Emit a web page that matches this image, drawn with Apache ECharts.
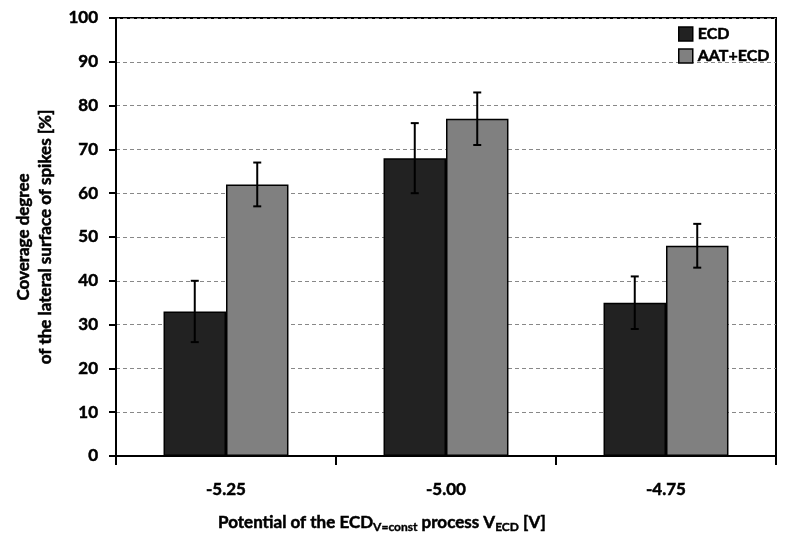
<!DOCTYPE html>
<html><head><meta charset="utf-8">
<script src="https://cdn.jsdelivr.net/npm/echarts@6/dist/echarts.min.js"></script>
<style>html,body{margin:0;padding:0;background:#fff}#c{width:796px;height:540px}</style>
</head><body><div id="c"></div>
<script>
const categories = ['-5.25', '-5.00', '-4.75'];
const ecd = [33, 68, 35];
const ecdLow = [26, 60, 29];
const ecdHigh = [40, 76, 41];
const aat = [62, 77, 48];
const aatLow = [57, 71, 43];
const aatHigh = [67, 83, 53];
const yTicks = [0, 10, 20, 30, 40, 50, 60, 70, 80, 90, 100];

const FONT = 'Lato';
const BW = 0.284;
const HEAVY = { textBorderColor: '#000', textBorderWidth: 0.5 };

function errSeries(low, high, side) {
  return {
    type: 'custom',
    silent: true,
    z: 10,
    data: categories.map((c, i) => [i, low[i], high[i]]),
    renderItem: function (params, api) {
      const i = api.value(0);
      const catW = api.size([1, 0])[0];
      const off = side * catW * BW / 2;
      const lo = api.coord([i, api.value(1)]);
      const hi = api.coord([i, api.value(2)]);
      const x = lo[0] + off;
      const cap = 4;
      const st = { stroke: '#000', lineWidth: 2 };
      return {
        type: 'group',
        children: [
          { type: 'line', shape: { x1: x, y1: lo[1], x2: x, y2: hi[1] }, style: st },
          { type: 'line', shape: { x1: x - cap, y1: lo[1], x2: x + cap, y2: lo[1] }, style: st },
          { type: 'line', shape: { x1: x - cap, y1: hi[1], x2: x + cap, y2: hi[1] }, style: st }
        ]
      };
    }
  };
}

const chart = echarts.init(document.getElementById('c'), null, { renderer: 'canvas' });
chart.setOption({
  animation: false,
  backgroundColor: '#fff',
  textStyle: { fontFamily: FONT },
  grid: { left: 116, right: 20, top: 18, bottom: 84, show: true, borderColor: '#000', borderWidth: 2, backgroundColor: 'transparent' },
  legend: {
    orient: 'vertical', left: 673, top: 20, itemWidth: 14, itemHeight: 14, itemGap: 4,
    icon: 'rect', selectedMode: false,
    itemStyle: { borderColor: '#000', borderWidth: 1.5 },
    textStyle: Object.assign({ fontFamily: FONT, fontWeight: 'bold', fontSize: 16, color: '#000', lineHeight: 18 }, HEAVY),
    data: ['ECD', 'AAT+ECD']
  },
  xAxis: {
    type: 'category', data: categories,
    axisLine: { lineStyle: { color: '#000', width: 2 } },
    axisTick: { show: true, inside: false, length: 9, lineStyle: { color: '#000', width: 2 } },
    axisLabel: Object.assign({ margin: 25, fontFamily: FONT, fontWeight: 'bold', fontSize: 17, color: '#000' }, HEAVY),
    splitLine: { show: false }
  },
  yAxis: {
    type: 'value', min: 0, max: 100, interval: 10,
    axisLine: { show: true, lineStyle: { color: '#000', width: 2 } },
    axisTick: { show: true, length: 7, lineStyle: { color: '#000', width: 2 } },
    axisLabel: Object.assign({ margin: 18, fontFamily: FONT, fontWeight: 'bold', fontSize: 17, color: '#000',
      formatter: v => yTicks.includes(v) ? String(v) : '' }, HEAVY),
    splitLine: { show: true, lineStyle: { color: '#888', width: 1.2, type: [4, 3] } }
  },
  series: [
    { name: 'ECD', type: 'bar', data: ecd, barWidth: (BW * 100) + '%', barGap: '0%',
      itemStyle: { color: '#222222', borderColor: '#000', borderWidth: 1.5 } },
    { name: 'AAT+ECD', type: 'bar', data: aat, barWidth: (BW * 100) + '%', barGap: '0%',
      itemStyle: { color: '#808080', borderColor: '#000', borderWidth: 1.5 } },
    errSeries(ecdLow, ecdHigh, -1),
    errSeries(aatLow, aatHigh, 1)
  ],
  graphic: [
    {
      type: 'text', x: 35, y: 237, rotation: Math.PI / 2,
      style: {
        text: 'Coverage degree\nof the lateral surface of spikes [%]',
        fontFamily: FONT, fontWeight: 'bold', fontSize: 17, lineHeight: 22,
        fill: '#000', align: 'center', verticalAlign: 'middle',
        stroke: '#000', lineWidth: 0.5
      }
    },
    {
      type: 'text', x: 382, y: 523,
      style: {
        text: '{b|Potential of the ECD}{s|V=const}{b| process V}{s|ECD}{b| [V]}',
        align: 'center', verticalAlign: 'middle',
        fill: '#000', stroke: '#000', lineWidth: 0.5,
        rich: {
          b: { fontFamily: FONT, fontWeight: 'bold', fontSize: 17, fill: '#000', stroke: '#000', lineWidth: 0.5 },
          s: { fontFamily: FONT, fontWeight: 'bold', fontSize: 12, fill: '#000', stroke: '#000', lineWidth: 0.4, padding: [9, 0, 0, 0] }
        }
      }
    }
  ]
});
</script></body></html>
